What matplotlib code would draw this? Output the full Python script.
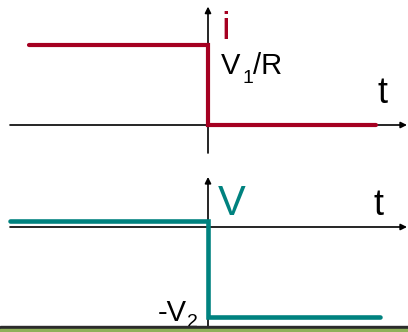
import matplotlib.pyplot as plt
from matplotlib.patches import Rectangle

plt.rcParams['font.family'] = ['Liberation Sans', 'DejaVu Sans']

# dane: czas i przebiegi (skok w t = 0)
t_i = [-1.79, 0.0, 0.0, 1.68]
i_vals = [1.0, 1.0, 0.0, 0.0]          # V1/R -> 0

t_v = [-1.98, 0.0, 0.0, 1.72]
v_vals = [0.067, 0.067, -1.0, -1.0]    # ~0 -> -V2

T_MIN, T_MAX = -2.08, 2.00
RED = '#A50021'
TEAL = '#00827F'

fig = plt.figure(figsize=(4.08, 3.32), dpi=100)
ax1 = fig.add_axes([0, 172 / 332, 1, 160 / 332])
ax2 = fig.add_axes([0, 0, 1, 172 / 332])

ax1.set_xlim(T_MIN, T_MAX)
ax1.set_ylim(-0.4375, 1.5625)
ax2.set_xlim(T_MIN, T_MAX)
ax2.set_ylim(-1.1667, 0.7444)
for ax in (ax1, ax2):
    ax.axis('off')

arrow = dict(arrowstyle='-|>', lw=1.2, color='black', mutation_scale=9,
             shrinkA=0, shrinkB=0)

# osie - górny wykres
ax1.annotate('', xy=(1.99, 0), xytext=(-1.98, 0), arrowprops=arrow)
ax1.annotate('', xy=(0, 1.48), xytext=(0, -0.35), arrowprops=arrow)
# osie - dolny wykres
ax2.annotate('', xy=(1.99, 0), xytext=(-1.98, 0), arrowprops=arrow)
ax2.annotate('', xy=(0, 0.556), xytext=(0, -1.3), arrowprops=arrow,
             annotation_clip=False)

ax1.plot(t_i, i_vals, color=RED, lw=3.0, solid_capstyle='round',
         solid_joinstyle='miter', zorder=3)
ax2.plot(t_v, v_vals, color=TEAL, lw=3.3, solid_capstyle='round',
         solid_joinstyle='miter', zorder=3)

# opisy
ax1.text(0.13, 1.075, 'i', color=RED, fontsize=28, va='baseline')
ax1.text(0.13, 0.6375, 'V', fontsize=21, va='baseline')
ax1.text(0.35, 0.53, '1', fontsize=14, va='baseline')
ax1.text(0.45, 0.6375, '/R', fontsize=21, va='baseline')
ax1.text(1.69, 0.275, 't', fontsize=26, va='baseline')

ax2.text(0.10, 0.133, 'V', color=TEAL, fontsize=30, va='baseline')
ax2.text(1.66, 0.133, 't', fontsize=26, va='baseline')
ax2.text(-0.21, -1.044, '-V', fontsize=21, va='baseline', ha='right')
ax2.text(-0.205, -1.111, '2', fontsize=14, va='baseline')

# pasek na dole slajdu
fig.patches.append(Rectangle((0, 3.5 / 332), 1, 2.5 / 332, transform=fig.transFigure,
                             color='#2B2B2B', zorder=5))
fig.patches.append(Rectangle((0, 0), 1, 3.5 / 332, transform=fig.transFigure,
                             color='#8FB05A', zorder=5))

fig.savefig('out.png', dpi=100)
